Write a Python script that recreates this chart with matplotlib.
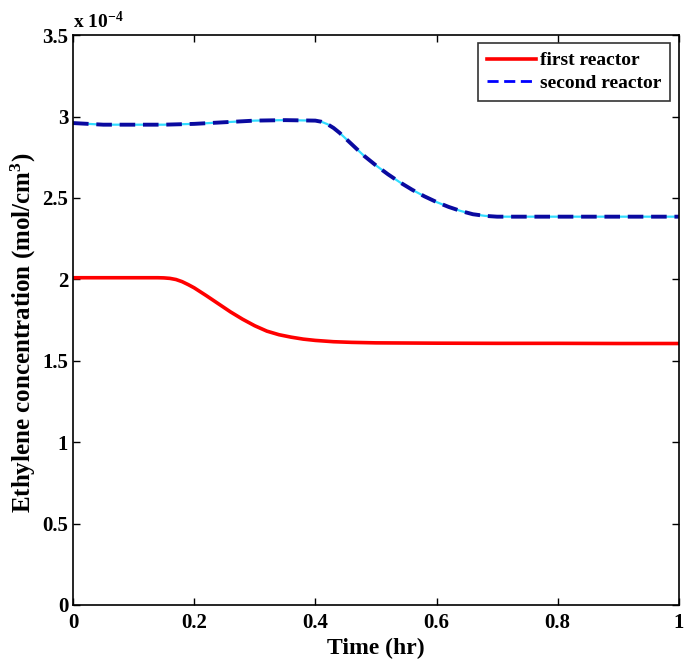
import matplotlib
matplotlib.use("Agg")
import matplotlib.pyplot as plt
import numpy as np

plt.rcParams['font.family'] = ['Liberation Serif', 'DejaVu Serif']
plt.rcParams['font.weight'] = 'bold'
plt.rcParams['mathtext.fontset'] = 'custom'
plt.rcParams['mathtext.rm'] = 'Liberation Serif:bold'
plt.rcParams['mathtext.default'] = 'rm'

# time (hr) and ethylene concentration (x 1e-4 mol/cm^3)
t_first = [0.0, 0.05, 0.10, 0.14, 0.15, 0.16, 0.17, 0.18, 0.19, 0.20, 0.22, 0.24, 0.26, 0.28,
           0.30, 0.32, 0.34, 0.36, 0.38, 0.40, 0.43, 0.46, 0.50, 0.60, 0.70, 0.80, 0.90, 1.0]
c_first = [2.01, 2.01, 2.01, 2.01, 2.009, 2.006, 1.999, 1.986, 1.968, 1.948, 1.90, 1.85,
           1.80, 1.755, 1.715, 1.682, 1.66, 1.645, 1.633, 1.625, 1.617, 1.613, 1.61,
           1.608, 1.607, 1.607, 1.606, 1.606]

t_second = [0.0, 0.05, 0.10, 0.15, 0.20, 0.25, 0.30, 0.35, 0.40, 0.41, 0.42, 0.43, 0.44,
            0.46, 0.48, 0.50, 0.52, 0.54, 0.56, 0.58, 0.60, 0.62, 0.64, 0.66, 0.68, 0.70,
            0.80, 0.90, 1.0]
c_second = [2.96, 2.95, 2.95, 2.95, 2.955, 2.965, 2.975, 2.978, 2.975, 2.968, 2.953, 2.93,
            2.90, 2.83, 2.76, 2.70, 2.645, 2.595, 2.55, 2.51, 2.475, 2.445, 2.42, 2.40,
            2.39, 2.385, 2.385, 2.385, 2.385]

fig = plt.figure(figsize=(6.85, 6.63), dpi=100)
ax = fig.add_axes([0.1066, 0.0875, 0.8844, 0.8595])

ax.plot(t_first, c_first, color='#ff0000', lw=2.6, label='first reactor')
ax.plot(t_second, c_second, color='#33ddff', lw=1.6)
ax.plot(t_second, c_second, color='#0a0aa0', lw=2.8, ls=(0, (4.0, 2.0)), label='second reactor')

ax.set_xlim(0, 1)
ax.set_ylim(0, 3.5)
ax.set_xticks([0, 0.2, 0.4, 0.6, 0.8, 1])
ax.set_xticklabels(['0', '0.2', '0.4', '0.6', '0.8', '1'])
ax.set_yticks([0, 0.5, 1, 1.5, 2, 2.5, 3, 3.5])
ax.set_yticklabels(['0', '0.5', '1', '1.5', '2', '2.5', '3', '3.5'])
ax.tick_params(direction='in', top=True, right=True, length=5, width=1, labelsize=15)
ax.tick_params(axis='x', pad=6)
ax.tick_params(axis='y', pad=3.5)
for s in ax.spines.values():
    s.set_linewidth(1.2)

ax.set_xlabel('Time (hr)', fontsize=17, fontweight='bold', labelpad=3)
ax.set_ylabel('Ethylene concentration (mol/cm$^{3}$)', fontsize=18, fontweight='bold')
ax.yaxis.set_label_coords(-0.058, 0.478)
ax.text(0.0, 1.006, 'x 10$^{-4}$', transform=ax.transAxes, fontsize=14, fontweight='bold',
        va='bottom', ha='left')

leg = ax.legend(loc='upper right', fontsize=14, frameon=True, fancybox=False,
                edgecolor='black', handlelength=2.5, handletextpad=0.2, borderpad=0.45,
                labelspacing=0.25, borderaxespad=0, bbox_to_anchor=(0.985, 0.986))
leg.get_frame().set_linewidth(1.2)
leg.get_lines()[1].set_color('#0000ff')
leg.get_lines()[1].set_linewidth(2)

fig.savefig('out.png', dpi=100)
